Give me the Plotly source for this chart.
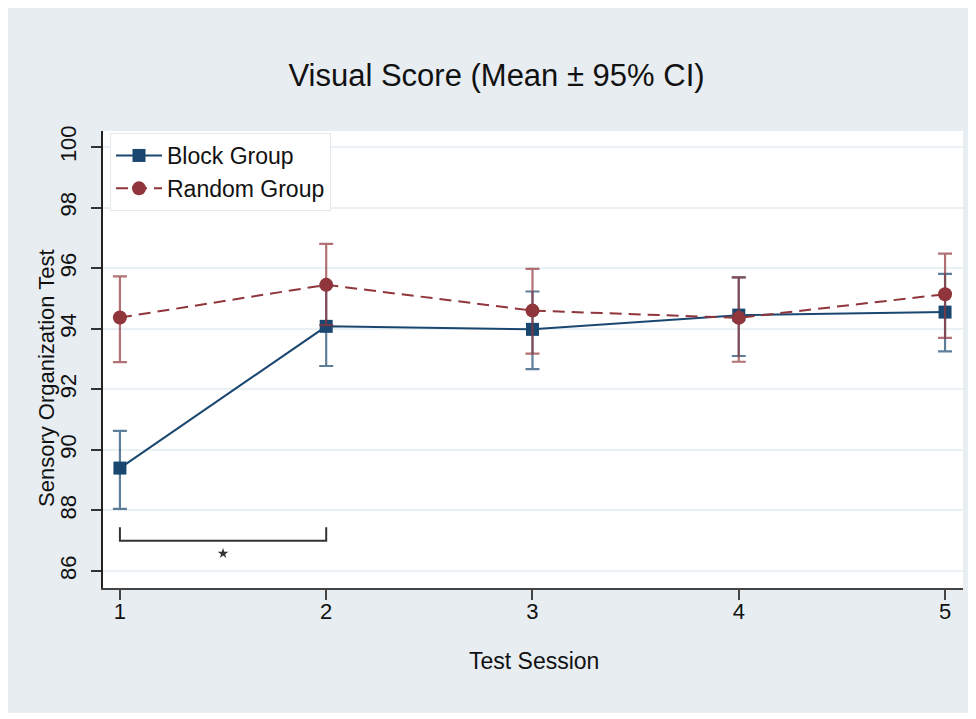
import plotly.graph_objects as go

sessions = [1, 2, 3, 4, 5]
block_mean = [89.40, 94.08, 93.98, 94.45, 94.55]
block_lo = [88.05, 92.77, 92.67, 93.10, 93.25]
block_hi = [90.63, 95.40, 95.23, 95.70, 95.81]
random_mean = [94.37, 95.45, 94.60, 94.36, 95.14]
random_lo = [92.90, 94.12, 93.18, 92.91, 93.70]
random_hi = [95.73, 96.80, 95.98, 95.70, 96.48]
y_ticks = [86, 88, 90, 92, 94, 96, 98, 100]
bracket_y = 87.0
bracket_top = 87.45
star_y = 86.58

NAVY = "#1a476f"
MAROON = "#90353b"
BG = "#e7edf1"
FONT = "Liberation Sans, Arial, Helvetica, sans-serif"

fig = go.Figure()
fig.add_trace(go.Scatter(
    x=sessions, y=block_mean, mode="lines+markers", name="Block Group",
    line=dict(color=NAVY, width=2),
    marker=dict(symbol="square", size=13, color=NAVY),
    error_y=dict(type="data", symmetric=False,
                 array=[h - m for h, m in zip(block_hi, block_mean)],
                 arrayminus=[m - l for m, l in zip(block_mean, block_lo)],
                 color="rgba(26,71,111,0.7)", thickness=2.2, width=7),
))
fig.add_trace(go.Scatter(
    x=sessions, y=random_mean, mode="lines+markers", name="Random Group",
    line=dict(color=MAROON, width=2, dash="12px,7px"),
    marker=dict(symbol="circle", size=14, color=MAROON),
    error_y=dict(type="data", symmetric=False,
                 array=[h - m for h, m in zip(random_hi, random_mean)],
                 arrayminus=[m - l for m, l in zip(random_mean, random_lo)],
                 color="rgba(144,53,59,0.7)", thickness=2.2, width=7),
))
# significance bracket between session 1 and 2
fig.add_trace(go.Scatter(
    x=[sessions[0], sessions[0], sessions[1], sessions[1]],
    y=[bracket_top, bracket_y, bracket_y, bracket_top],
    mode="lines", line=dict(color="#333333", width=2),
    showlegend=False, hoverinfo="skip",
))
fig.add_trace(go.Scatter(
    x=[(sessions[0] + sessions[1]) / 2], y=[star_y], mode="markers",
    marker=dict(symbol="star", size=8, color="#333333"),
    showlegend=False, hoverinfo="skip",
))

OFF = 8  # browser body margin
W, H = 968, 705
L, T = 103 - OFF, 131 - OFF
R = W - (963 - OFF)
B = H - (588 - OFF)
pw, ph = W - L - R, H - T - B

def px_x(px):
    return (px - OFF - L) / pw

def px_y(py):
    return (H - B - (py - OFF)) / ph

fig.update_layout(
    width=W, height=H,
    margin=dict(l=L, r=R, t=T, b=B),
    paper_bgcolor=BG, plot_bgcolor="white",
    font=dict(family=FONT, color="#111111"),
    title=dict(text="Visual Score (Mean ± 95% CI)", x=(496.5 - OFF) / W, xref="container",
               xanchor="center", y=1 - (75 - OFF) / H, yref="container", yanchor="middle",
               font=dict(size=31, family=FONT, color="#111111")),
    xaxis=dict(range=[0.918, 5.087], tickvals=sessions, ticktext=[str(s) for s in sessions],
               showgrid=False, zeroline=False, showline=True, linecolor="#444444", linewidth=2,
               ticks="outside", ticklen=10, tickwidth=2, tickcolor="#444444",
               tickfont=dict(size=22), ticklabelstandoff=-7),
    yaxis=dict(range=[85.44, 100.53], tickvals=y_ticks, ticktext=[str(t) for t in y_ticks],
               showgrid=True, gridcolor="#eaf1f4", gridwidth=2, zeroline=False,
               showline=True, linecolor="#222222", linewidth=2,
               ticks="outside", ticklen=10, tickwidth=2, tickcolor="#333333",
               tickangle=-90, tickfont=dict(size=22), ticklabelstandoff=6),
    legend=dict(x=px_x(110), y=px_y(133), xanchor="left", yanchor="top",
                bgcolor="white", bordercolor="#e3e9ec", borderwidth=1,
                font=dict(size=23, family=FONT), traceorder="normal",
                itemwidth=46, entrywidth=230, entrywidthmode="pixels"),
    showlegend=True,
)
fig.add_annotation(text="Test Session", xref="paper", yref="paper",
                   x=px_x(534), y=px_y(661), showarrow=False,
                   font=dict(size=23, family=FONT), xanchor="center", yanchor="middle")
fig.add_annotation(text="Sensory Organization Test", xref="paper", yref="paper",
                   x=px_x(46), y=px_y(378), showarrow=False, textangle=-90,
                   font=dict(size=22, family=FONT), xanchor="center", yanchor="middle")

fig.write_html("out.html")
